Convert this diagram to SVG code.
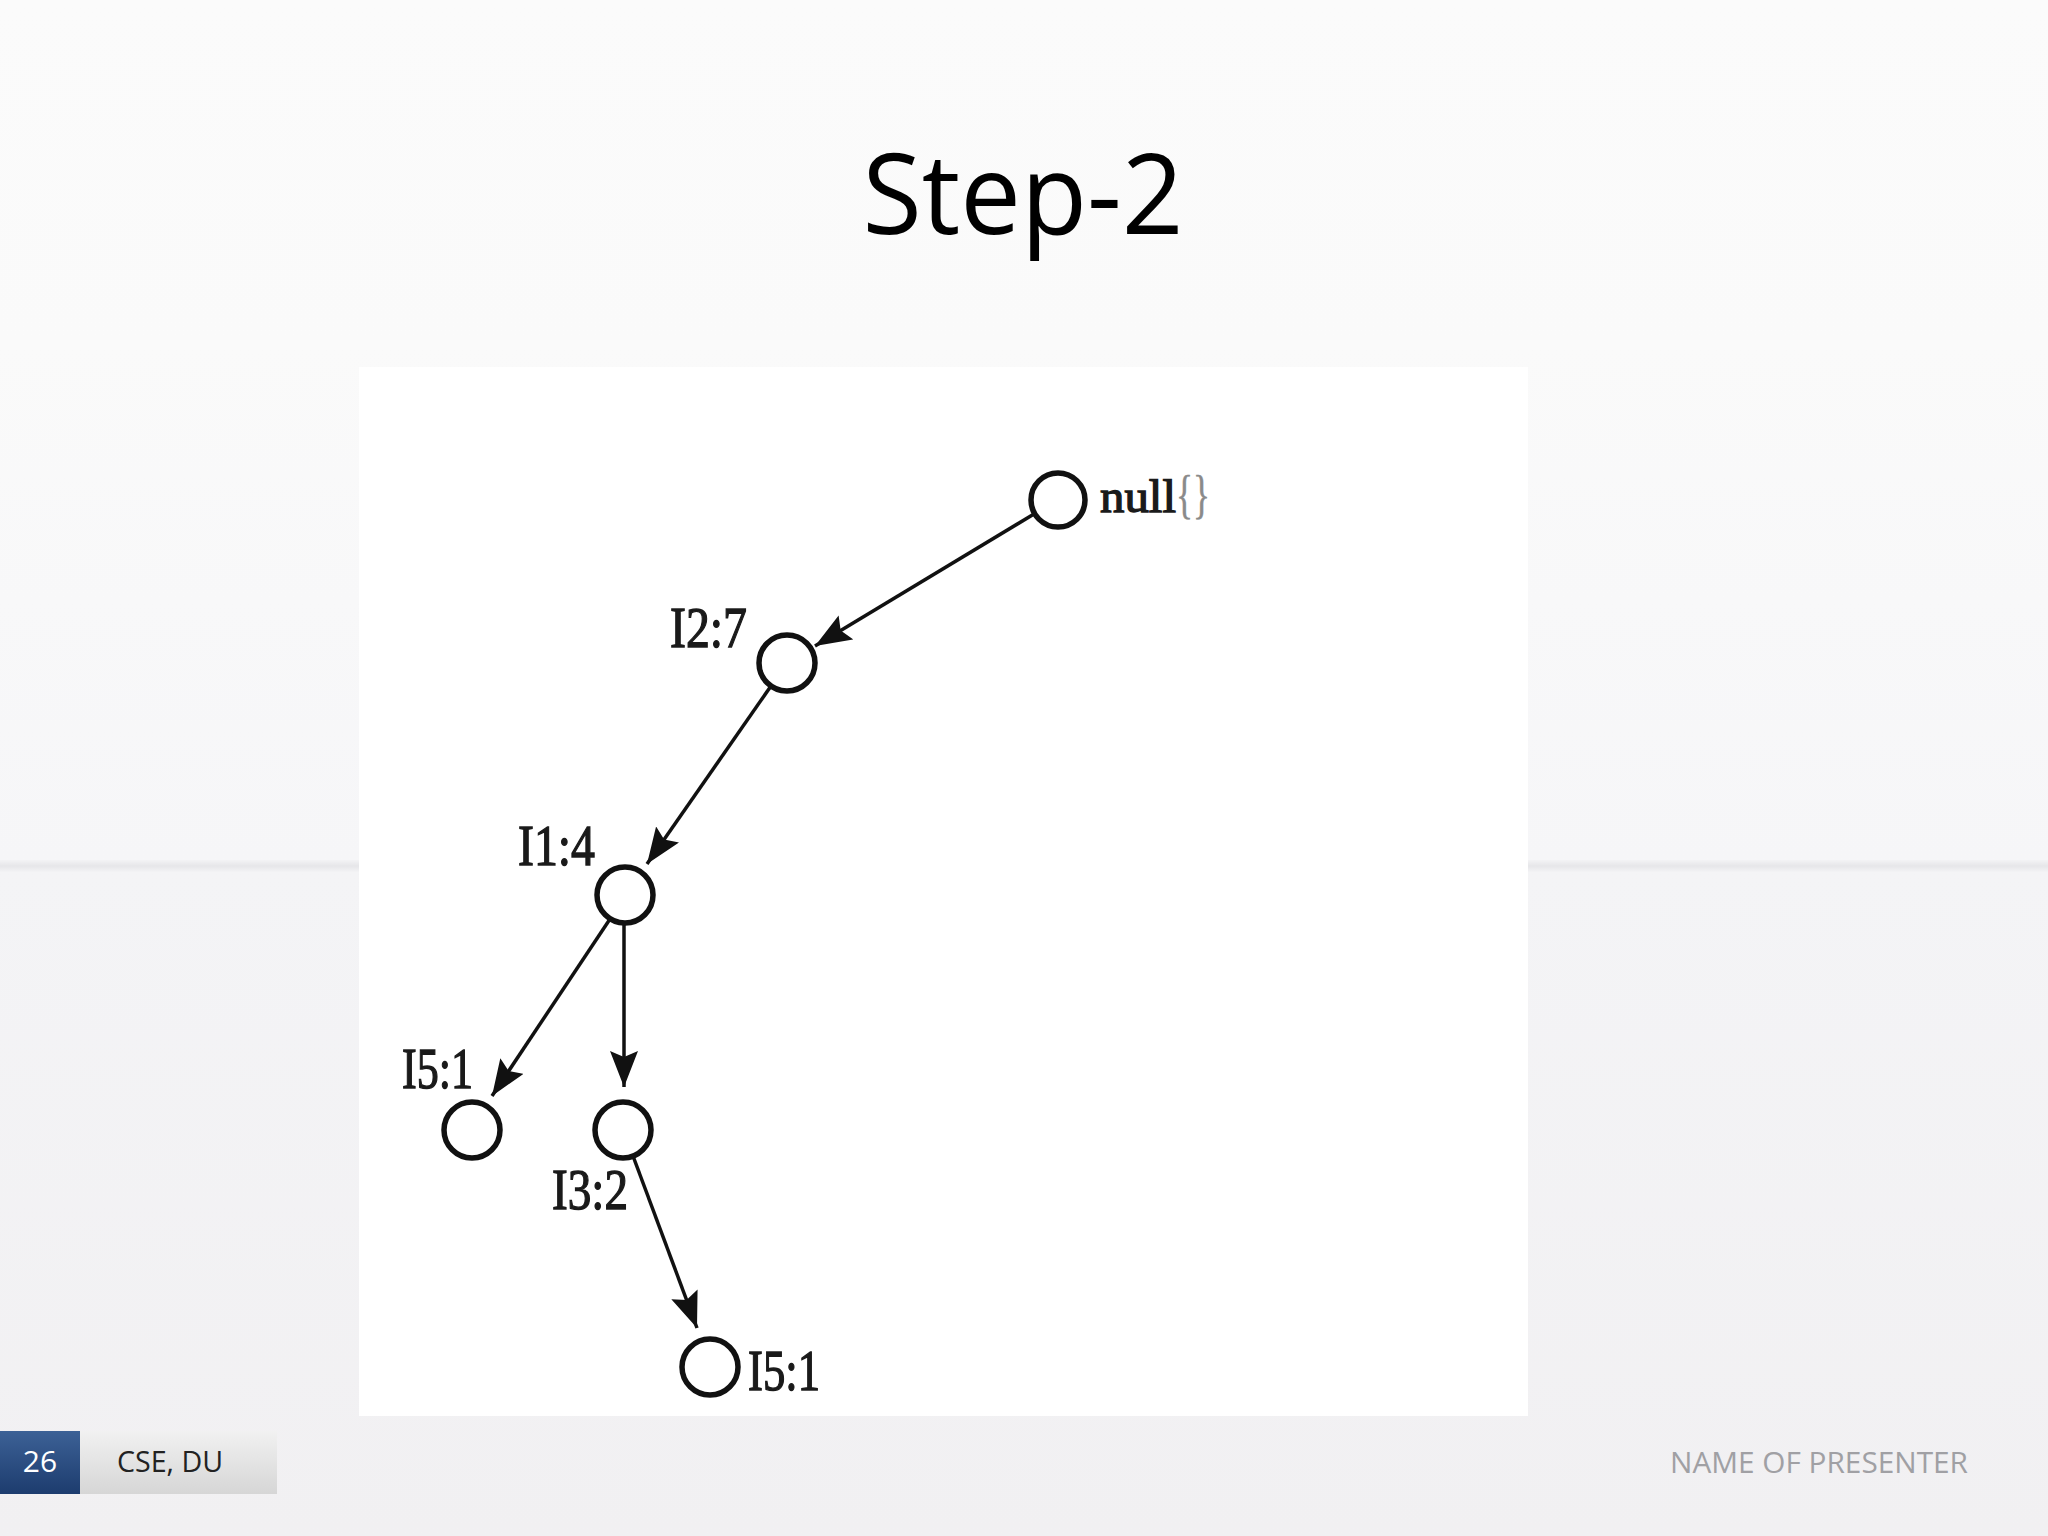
<svg xmlns="http://www.w3.org/2000/svg" width="2048" height="1536" viewBox="0 0 2048 1536">
<defs>
<linearGradient id="bgTop" x1="0" y1="0" x2="0" y2="1">
<stop offset="0" stop-color="#fbfbfb"/><stop offset="0.4" stop-color="#fafafa"/><stop offset="1" stop-color="#f6f6f8"/>
</linearGradient>
<linearGradient id="bgBot" x1="0" y1="0" x2="0" y2="1">
<stop offset="0" stop-color="#f4f4f6"/><stop offset="1" stop-color="#f1f0f2"/>
</linearGradient>
<linearGradient id="line" x1="0" y1="0" x2="0" y2="1">
<stop offset="0" stop-color="#f3f3f5"/><stop offset="0.5" stop-color="#e6e6e9"/><stop offset="1" stop-color="#f3f3f5"/>
</linearGradient>
<linearGradient id="blue" x1="0" y1="0" x2="0" y2="1">
<stop offset="0" stop-color="#3c6196"/><stop offset="1" stop-color="#1d3c6e"/>
</linearGradient>
<linearGradient id="gray" x1="0" y1="0" x2="0" y2="1">
<stop offset="0" stop-color="#f1f1f1"/><stop offset="1" stop-color="#d6d6d6"/>
</linearGradient>
<marker id="ah" viewBox="0 0 36 28" refX="36" refY="14" markerWidth="36" markerHeight="28" markerUnits="userSpaceOnUse" orient="auto">
<path d="M0,0 L36,14 L0,28 L6,14 z" fill="#111"/>
</marker>
<style>
.node{fill:#fff;stroke:#111;stroke-width:5.5}
.lbl{font-family:"Liberation Serif","Times New Roman",serif;font-size:56px;fill:#1a1a1a;stroke:#1a1a1a;stroke-width:1.3}
.edge{stroke:#111;stroke-width:3.5;fill:none;marker-end:url(#ah)}
</style>
</defs>
<rect x="0" y="0" width="2048" height="1536" fill="#f1f0f2"/>
<rect x="0" y="0" width="2048" height="860" fill="url(#bgTop)"/>
<rect x="0" y="860" width="2048" height="12" fill="url(#line)"/>
<rect x="0" y="872" width="2048" height="664" fill="url(#bgBot)"/>
<text x="1023" y="234" text-anchor="middle" font-family="'Open Sans','Noto Sans',sans-serif" font-size="112" fill="#000" textLength="321" lengthAdjust="spacingAndGlyphs">Step-2</text>
<rect x="359" y="367" width="1169" height="1049" fill="#ffffff"/>
<g id="connectors">
<line class="edge" x1="1034" y1="514" x2="815" y2="646"/>
<line class="edge" x1="771" y1="686" x2="647" y2="864"/>
<line class="edge" x1="610" y1="919" x2="492" y2="1096"/>
<line class="edge" x1="624" y1="923" x2="624" y2="1087"/>
<line class="edge" x1="633" y1="1156" x2="697" y2="1328"/>
</g>
<g id="node-null">
<circle class="node" cx="1058" cy="500" r="27"/>
<text class="lbl" x="1100" y="512" style="font-size:46px"><tspan textLength="76" lengthAdjust="spacingAndGlyphs">null</tspan><tspan fill="#8a8a8a" stroke="#8a8a8a" stroke-width="0.5" font-size="52" textLength="34" lengthAdjust="spacingAndGlyphs">{}</tspan></text>
</g>
<g id="node-I2-7">
<circle class="node" cx="787" cy="663" r="28"/>
<text class="lbl" x="670" y="647" textLength="77" lengthAdjust="spacingAndGlyphs">I2:7</text>
</g>
<g id="node-I1-4">
<circle class="node" cx="625" cy="895" r="28"/>
<text class="lbl" x="518" y="865" textLength="77" lengthAdjust="spacingAndGlyphs">I1:4</text>
</g>
<g id="node-I5-1a">
<circle class="node" cx="472" cy="1130" r="28"/>
<text class="lbl" x="402" y="1088" textLength="71" lengthAdjust="spacingAndGlyphs">I5:1</text>
</g>
<g id="node-I3-2">
<circle class="node" cx="623" cy="1130" r="28"/>
<text class="lbl" x="552" y="1209" textLength="76" lengthAdjust="spacingAndGlyphs">I3:2</text>
</g>
<g id="node-I5-1b">
<circle class="node" cx="710" cy="1367" r="28"/>
<text class="lbl" x="748" y="1390" textLength="72" lengthAdjust="spacingAndGlyphs">I5:1</text>
</g>
<g id="footer">
<rect x="0" y="1431" width="80" height="63" fill="url(#blue)"/>
<rect x="80" y="1431" width="197" height="63" fill="url(#gray)"/>
<text x="40" y="1472" text-anchor="middle" font-family="'Open Sans','Noto Sans',sans-serif" font-size="30" fill="#ffffff">26</text>
<text x="117" y="1472" font-family="'Open Sans','Noto Sans',sans-serif" font-size="30" fill="#222" textLength="106" lengthAdjust="spacingAndGlyphs">CSE, DU</text>
<text x="1968" y="1473" text-anchor="end" font-family="'Open Sans','Noto Sans',sans-serif" font-size="29" fill="#a0a0a4" textLength="298" lengthAdjust="spacingAndGlyphs">NAME OF PRESENTER</text>
</g>
</svg>
